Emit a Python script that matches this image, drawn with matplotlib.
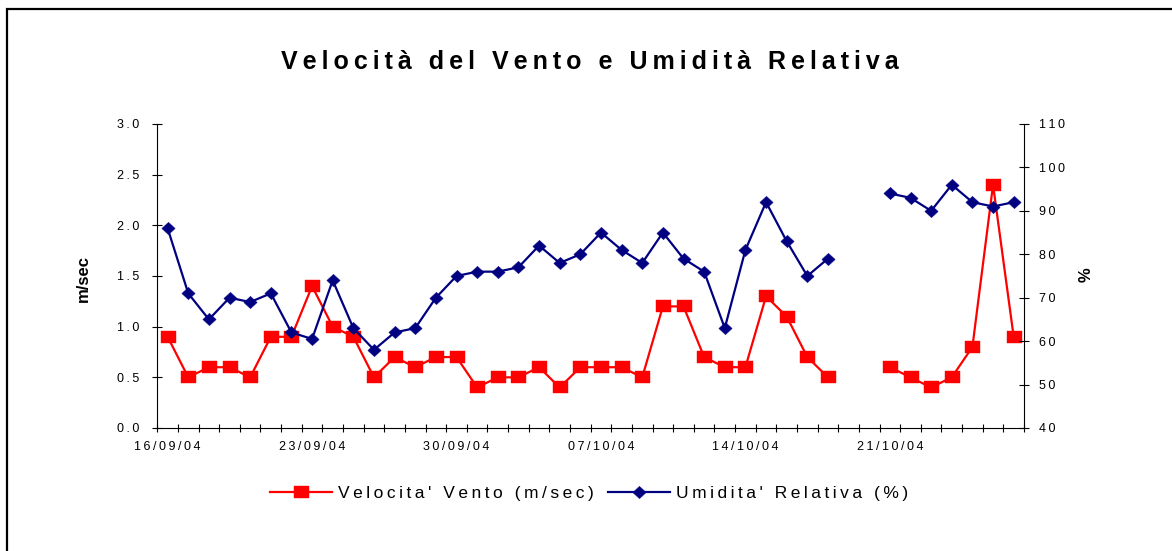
import numpy as np
import pandas as pd
import matplotlib
matplotlib.use("Agg")
import matplotlib.pyplot as plt
import matplotlib.dates as mdates
from matplotlib.ticker import FixedLocator, FuncFormatter
from matplotlib.patches import Rectangle

plt.rcParams['font.family'] = ['Liberation Sans', 'DejaVu Sans']

# giorni di misura (uno al giorno)
giorni = pd.date_range('2004-09-16', '2004-10-27', freq='D')

# velocita' del vento (m/sec)
vento = [0.9, 0.5, 0.6, 0.6, 0.5, 0.9, 0.9, 1.4, 1.0, 0.9,
         0.5, 0.7, 0.6, 0.7, 0.7, 0.4, 0.5, 0.5, 0.6, 0.4,
         0.6, 0.6, 0.6, 0.5, 1.2, 1.2, 0.7, 0.6, 0.6, 1.3,
         1.1, 0.7, 0.5, np.nan, np.nan, 0.6, 0.5, 0.4, 0.5, 0.8,
         2.4, 0.9]

# umidita' relativa (%)
umidita = [86, 71, 65, 70, 69, 71, 62, 60.5, 74, 63,
           58, 62, 63, 70, 75, 76, 76, 77, 82, 78,
           80, 85, 81, 78, 85, 79, 76, 63, 81, 92,
           83, 75, 79, np.nan, np.nan, 94, 93, 90, 96, 92,
           91, 92]

etichette_x = giorni[::7]
tick_sx = [0.0, 0.5, 1.0, 1.5, 2.0, 2.5, 3.0]
tick_dx = [40, 50, 60, 70, 80, 90, 100, 110]

titolo = "Velocità del Vento e Umidità Relativa"
leg_vento = "Velocita' Vento (m/sec)"
leg_umid = "Umidita' Relativa (%)"


def track(s):
    # lettere spaziate come nell'originale
    return "\u2009".join(s)


fig = plt.figure(figsize=(11.72, 5.51), dpi=100)
fig.patch.set_facecolor('white')
ax = fig.add_axes([157.3 / 1172, 1 - 428 / 551, (1024 - 157.3) / 1172, (428 - 124) / 551])
ax2 = ax.twinx()

quadrato = [(-1.25, -1), (1.25, -1), (1.25, 1), (-1.25, 1), (-1.25, -1)]
rombo = [(0, 1), (1.08, 0), (0, -1), (-1.08, 0), (0, 1)]

l1, = ax.plot(giorni, vento, color='#ff0000', lw=1.6, marker=quadrato, ms=10.8,
              mfc='#ff0000', mec='#ff0000', mew=0.3, label=track(leg_vento))
l2, = ax2.plot(giorni, umidita, color='#000080', lw=1.6, marker=rombo, ms=9.6,
               mfc='#000080', mec='#000080', mew=0.3, label=track(leg_umid))

half = pd.Timedelta(hours=12)
ax.set_xlim(giorni[0] - half, giorni[-1] + half)
ax.set_ylim(0, 3.0)
ax2.set_ylim(40, 110)

# assi e tacche
for a in (ax, ax2):
    a.spines['top'].set_visible(False)
    for s in a.spines.values():
        s.set_linewidth(0.8)
ax.spines['right'].set_visible(False)
ax2.spines['left'].set_visible(False)
ax2.spines['bottom'].set_visible(False)

ax.set_yticks(tick_sx)
ax.yaxis.set_major_formatter(FuncFormatter(lambda v, p: track(f"{v:.1f}")))
ax.tick_params(axis='y', direction='inout', length=7.2, width=0.8, pad=9.5, labelsize=9)

ax2.set_yticks(tick_dx)
ax2.yaxis.set_major_formatter(FuncFormatter(lambda v, p: track(f"{v:.0f}")))
ax2.tick_params(axis='y', direction='inout', length=7.2, width=0.8, pad=7, labelsize=9)

confini = list(mdates.date2num(giorni) - 0.5) + [mdates.date2num(giorni[-1]) + 0.5]
ax.xaxis.set_minor_locator(FixedLocator(confini))
ax.xaxis.set_major_locator(FixedLocator(mdates.date2num(etichette_x)))
ax.xaxis.set_major_formatter(FuncFormatter(
    lambda v, p: track(mdates.num2date(v).strftime('%d/%m/%y'))))
ax.tick_params(axis='x', which='major', length=0, pad=9, labelsize=9)
ax.tick_params(axis='x', which='minor', direction='inout', length=6, width=0.8)

# titolo ed etichette assi
fig.text(590 / 1172, 1 - 62 / 551, track(titolo), ha='center', va='center',
         fontsize=18, fontweight='bold')
fig.text(83 / 1172, 1 - 278 / 551, "m/sec", rotation=90, ha='center', va='center',
         fontsize=12, fontweight='bold')
fig.text(1086 / 1172, 1 - 275 / 551, "%", rotation=90, ha='center', va='center',
         fontsize=12, fontweight='bold')

fig.legend(handles=[l1, l2], loc='center', bbox_to_anchor=(589 / 1172, 1 - 493 / 551),
           ncol=2, frameon=False, fontsize=12.5, handlelength=3.6, handletextpad=0.35,
           columnspacing=0.8)

# cornice del grafico
fig.patches.append(Rectangle((6.5 / 1172, -0.1), 1.2, 1.1 - 9.5 / 551,
                             transform=fig.transFigure, fill=False, lw=1.6,
                             edgecolor='black'))

fig.savefig('out.png', dpi=100, facecolor='white')
